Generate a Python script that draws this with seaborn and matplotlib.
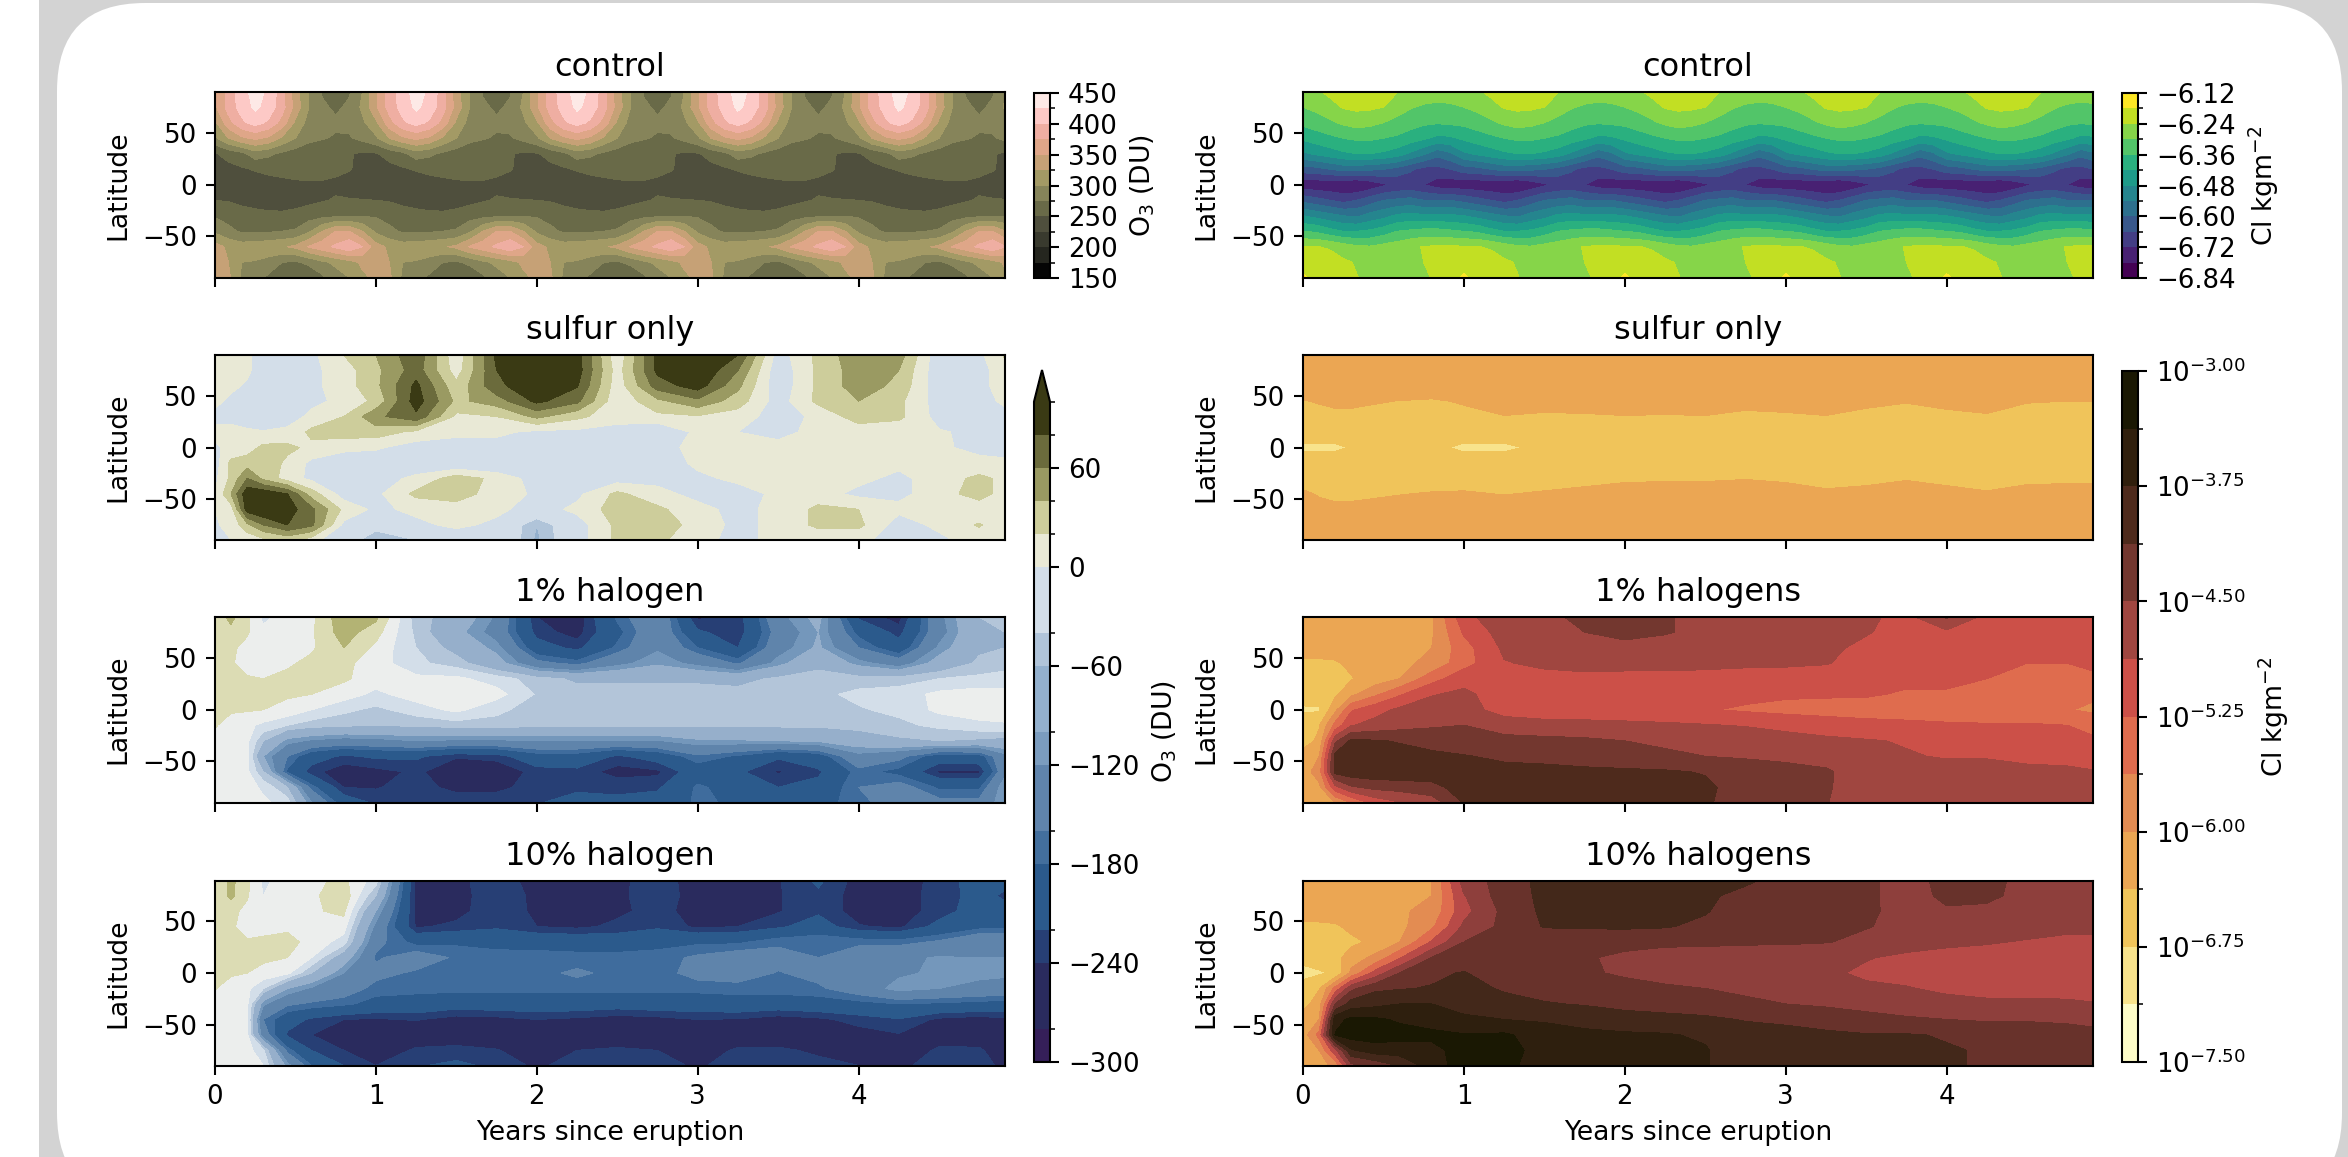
import numpy as np
import matplotlib
matplotlib.use("Agg")
import matplotlib.pyplot as plt
import seaborn as sns
from matplotlib.cm import ScalarMappable
from matplotlib.colors import BoundaryNorm, ListedColormap, to_hex
from matplotlib.patches import FancyBboxPatch, Rectangle

W, H, DPI = 2348, 1157, 187

lat = [89.7, 75, 60, 45, 30, 15, 0, -15, -30, -45, -60, -75, -89.7]
time = [0, 0.1, 0.2, 0.3, 0.45, 0.6, 0.8, 1, 1.25, 1.5, 1.75, 2, 2.25, 2.5, 2.75, 3, 3.25, 3.5, 3.75, 4, 4.25, 4.5, 4.75, 4.91]
months = np.arange(60) / 12

# one model year, the runs repeat it every year
o3_control_year = [
    [345, 385, 415, 435, 420, 385, 335, 300, 272, 265, 272, 300],
    [345, 385, 410, 430, 415, 385, 340, 300, 280, 270, 280, 305],
    [320, 365, 395, 410, 395, 365, 320, 290, 282, 280, 283, 295],
    [295, 325, 345, 355, 345, 320, 300, 282, 277, 272, 272, 282],
    [248, 258, 268, 288, 280, 270, 262, 258, 255, 255, 252, 246],
    [242, 243, 247, 252, 256, 258, 258, 256, 255, 255, 252, 242],
    [233, 232, 235, 237, 240, 243, 246, 248, 248, 245, 237, 233],
    [250, 248, 243, 240, 238, 238, 240, 243, 248, 252, 252, 251],
    [272, 268, 262, 258, 256, 255, 258, 265, 267, 270, 272, 274],
    [295, 280, 272, 270, 272, 275, 278, 295, 325, 350, 350, 325],
    [335, 320, 312, 315, 318, 322, 330, 352, 365, 380, 395, 375],
    [335, 325, 300, 298, 290, 275, 272, 280, 295, 305, 315, 330],
    [330, 330, 295, 285, 270, 258, 252, 258, 270, 290, 300, 320],
]
cl_control_year = [
    [-6.265, -6.25, -6.225, -6.20, -6.19, -6.20, -6.22, -6.238, -6.25, -6.26, -6.27, -6.27],
    [-6.30, -6.285, -6.265, -6.235, -6.228, -6.23, -6.24, -6.27, -6.295, -6.31, -6.315, -6.31],
    [-6.345, -6.33, -6.31, -6.29, -6.275, -6.285, -6.30, -6.32, -6.335, -6.35, -6.355, -6.35],
    [-6.41, -6.39, -6.375, -6.36, -6.35, -6.35, -6.36, -6.37, -6.39, -6.41, -6.435, -6.43],
    [-6.49, -6.47, -6.45, -6.43, -6.42, -6.42, -6.43, -6.45, -6.49, -6.53, -6.58, -6.55],
    [-6.63, -6.62, -6.60, -6.58, -6.58, -6.59, -6.60, -6.62, -6.65, -6.68, -6.68, -6.66],
    [-6.76, -6.765, -6.77, -6.775, -6.785, -6.76, -6.73, -6.71, -6.705, -6.72, -6.75, -6.76],
    [-6.62, -6.64, -6.66, -6.68, -6.66, -6.63, -6.60, -6.59, -6.58, -6.60, -6.60, -6.60],
    [-6.48, -6.50, -6.52, -6.54, -6.55, -6.52, -6.50, -6.47, -6.46, -6.47, -6.47, -6.47],
    [-6.36, -6.37, -6.40, -6.42, -6.42, -6.41, -6.39, -6.36, -6.35, -6.34, -6.34, -6.35],
    [-6.235, -6.238, -6.245, -6.27, -6.29, -6.295, -6.28, -6.27, -6.25, -6.237, -6.232, -6.232],
    [-6.21, -6.215, -6.22, -6.23, -6.245, -6.255, -6.26, -6.255, -6.25, -6.24, -6.22, -6.21],
    [-6.17, -6.20, -6.21, -6.22, -6.238, -6.255, -6.26, -6.26, -6.25, -6.245, -6.235, -6.205],
]

o3_sulfur = [
    [15, 20, 5, -15, -20, -5, 20, 40, 75, 5, 85, 100, 90, 5, 85, 100, 80, -10, 25, 55, 50, -15, -5, 22],
    [10, 15, 5, -15, -25, -5, 10, 35, 70, 10, 80, 100, 90, 10, 85, 100, 60, -15, 25, 50, 40, -15, -10, 15],
    [10, 5, -3, -10, -15, -5, 10, 35, 85, 25, 75, 95, 82, 8, 70, 90, 45, -15, 25, 50, 35, -15, -10, 15],
    [5, -5, -10, -15, -15, -5, 5, 25, 90, 35, 50, 85, 65, 5, 35, 55, 30, -10, 25, 40, 25, -10, -10, 5],
    [-5, -3, -10, -20, -10, 5, 20, 55, 75, 15, 20, 45, 25, 8, 15, 18, 10, -10, 5, 30, 25, -8, -15, -8],
    [5, 3, 3, 2, 5, 25, 30, 30, 15, 8, 5, -5, -5, -8, -20, 5, 0, -5, 5, 8, 5, 2, -5, -15],
    [-3, 5, 10, 25, 25, 15, 5, 3, -10, -15, -10, -25, -25, -20, -10, 8, 5, 5, 5, 5, 5, 3, -5, -10],
    [-10, 25, 30, 35, 15, -5, -12, -15, -15, -20, -25, -25, -25, -25, -15, 5, 5, 5, 5, 5, 5, 5, 5, 5],
    [-5, 25, 60, 35, 10, -5, -10, -10, 5, 30, 15, -10, -10, -10, -5, -5, 5, 5, 10, 5, -5, 10, 25, 15],
    [0, 40, 95, 95, 80, 30, -10, -5, 25, 25, 15, -5, -5, 25, 5, -5, -10, 5, 8, -5, -5, 10, 30, 10],
    [0, 10, 90, 100, 90, 65, 15, -5, 5, 15, 5, -10, 5, 30, 25, 5, -5, 5, 25, 20, 5, 5, 5, 5],
    [-2, 5, 35, 60, 80, 65, -5, -30, -5, 5, -5, -60, -10, 25, 35, 10, -5, 5, 25, 25, -10, 5, 22, 5],
    [-2, 0, 5, 15, 25, 10, -25, -55, -40, -15, -5, -65, -10, 25, 25, 5, -5, 5, 5, 5, -10, -5, 10, 5],
]
o3_one_pct = [
    [10, 25, 5, -25, -10, -5, 35, 25, -50, -75, -125, -240, -255, -175, -125, -245, -235, -130, -90, -225, -250, -130, -60, -55],
    [8, 15, 2, -15, -8, -3, 30, 8, -45, -90, -135, -230, -250, -190, -130, -215, -235, -145, -100, -190, -230, -135, -65, -60],
    [5, 3, -5, -8, -8, -3, 20, -5, -40, -70, -110, -205, -228, -175, -125, -180, -220, -135, -95, -160, -205, -115, -65, -60],
    [3, 2, -8, -5, -3, 5, 5, -10, -35, -50, -85, -150, -170, -130, -105, -130, -165, -110, -68, -110, -140, -85, -55, -50],
    [3, 3, 2, 0, 5, 5, 3, -10, -15, -15, -30, -50, -65, -65, -65, -65, -70, -55, -50, -50, -50, -40, -35, -30],
    [5, 5, 3, 3, 2, 0, -10, -25, -10, -10, -12, -42, -50, -50, -50, -50, -50, -50, -45, -35, -30, -15, -10, -15],
    [5, 3, 2, 0, -5, -20, -35, -45, -30, -15, -35, -50, -55, -55, -55, -55, -55, -50, -50, -42, -35, -15, -10, -12],
    [2, -10, -15, -25, -40, -50, -55, -60, -55, -50, -48, -55, -55, -55, -55, -55, -55, -55, -55, -50, -45, -35, -25, -22],
    [-8, -12, -15, -60, -110, -125, -135, -130, -120, -125, -125, -120, -120, -122, -122, -105, -103, -100, -95, -80, -65, -60, -65, -70],
    [-8, -10, -15, -100, -160, -205, -225, -215, -215, -238, -232, -195, -195, -225, -205, -165, -185, -215, -200, -130, -150, -200, -195, -130],
    [-8, -10, -15, -60, -185, -232, -255, -248, -236, -255, -258, -232, -228, -250, -245, -200, -215, -243, -225, -170, -190, -245, -245, -130],
    [-8, -8, -10, -25, -60, -170, -240, -242, -230, -248, -250, -225, -225, -225, -225, -175, -195, -220, -210, -160, -145, -185, -185, -100],
    [-5, -5, -8, -15, -30, -120, -200, -225, -230, -225, -220, -222, -210, -215, -205, -175, -185, -190, -190, -170, -140, -150, -150, -100],
]
o3_ten_pct = [
    [5, 25, 5, -25, -10, -5, 5, -30, -250, -245, -230, -248, -255, -245, -230, -250, -250, -242, -215, -250, -248, -235, -205, -210],
    [5, 25, 2, -20, -8, -5, 15, -60, -250, -250, -225, -246, -255, -245, -228, -250, -250, -242, -225, -250, -250, -232, -210, -225],
    [3, 5, -5, -8, -8, -3, 5, -100, -245, -248, -225, -245, -250, -245, -232, -250, -252, -242, -225, -250, -250, -232, -205, -210],
    [2, 3, -8, -5, -3, -5, -10, -130, -243, -235, -225, -240, -245, -235, -225, -245, -240, -225, -205, -238, -245, -210, -190, -190],
    [3, 3, 2, 3, 5, -5, -30, -150, -190, -185, -190, -192, -195, -200, -190, -185, -185, -165, -160, -165, -170, -155, -125, -120],
    [5, 5, 4, 3, 0, -20, -80, -165, -140, -165, -170, -170, -172, -170, -170, -155, -140, -150, -160, -145, -125, -118, -120, -120],
    [5, 3, 0, -5, -15, -60, -120, -150, -165, -165, -170, -168, -155, -168, -170, -150, -145, -162, -150, -135, -125, -115, -112, -115],
    [1, -10, -15, -40, -100, -125, -140, -170, -172, -172, -172, -172, -172, -172, -172, -172, -170, -168, -165, -140, -110, -120, -130, -132],
    [-8, -12, -15, -115, -155, -165, -175, -190, -195, -205, -200, -200, -200, -205, -200, -200, -195, -200, -195, -190, -180, -185, -190, -195],
    [-8, -10, -15, -160, -205, -225, -240, -243, -238, -250, -248, -240, -245, -252, -248, -240, -242, -252, -245, -232, -222, -245, -252, -245],
    [-8, -10, -15, -140, -225, -240, -260, -262, -262, -262, -262, -262, -262, -262, -262, -262, -262, -260, -255, -250, -242, -255, -260, -260],
    [-6, -8, -12, -35, -170, -220, -240, -262, -235, -230, -238, -258, -240, -235, -240, -258, -235, -235, -245, -250, -262, -235, -235, -262],
    [-5, -5, -10, -20, -110, -180, -220, -240, -222, -215, -225, -245, -228, -225, -228, -245, -225, -222, -232, -240, -248, -225, -225, -250],
]

cl_sulfur = [
    [-6.2] * 24,
    [-6.2] * 24,
    [-6.2] * 24,
    [-6.387, -6.357, -6.333, -6.333, -6.357, -6.381, -6.405, -6.351, -6.291, -6.309, -6.303, -6.291, -6.297, -6.291, -6.321, -6.309, -6.291, -6.333, -6.363, -6.327, -6.303, -6.363, -6.375, -6.375],
    [-6.477, -6.447, -6.423, -6.423, -6.447, -6.471, -6.495, -6.441, -6.381, -6.399, -6.393, -6.381, -6.387, -6.381, -6.411, -6.399, -6.381, -6.423, -6.453, -6.417, -6.393, -6.453, -6.465, -6.465],
    [-6.55] * 24,
    [-6.83, -6.83, -6.82, -6.72, -6.65, -6.65, -6.65, -6.83, -6.83, -6.65, -6.65, -6.65, -6.65, -6.65, -6.65, -6.65, -6.65, -6.65, -6.65, -6.65, -6.65, -6.65, -6.65, -6.65],
    [-6.55] * 24,
    [-6.441, -6.477, -6.513, -6.507, -6.483, -6.471, -6.453, -6.447, -6.471, -6.447, -6.423, -6.399, -6.393, -6.393, -6.381, -6.399, -6.435, -6.417, -6.387, -6.417, -6.447, -6.411, -6.405, -6.405],
    [-6.351, -6.387, -6.423, -6.417, -6.393, -6.381, -6.363, -6.357, -6.381, -6.357, -6.333, -6.309, -6.303, -6.303, -6.291, -6.309, -6.345, -6.327, -6.297, -6.327, -6.357, -6.321, -6.315, -6.315],
    [-6.30, -6.33, -6.33, -6.33, -6.33, -6.30, -6.30, -6.30, -6.30, -6.30, -6.30, -6.30, -6.30, -6.30, -6.30, -6.30, -6.30, -6.30, -6.30, -6.30, -6.30, -6.30, -6.30, -6.30],
    [-6.2] * 24,
    [-6.2] * 24,
]
cl_one_pct = [
    [-6.2, -6.2, -6.15, -6.15, -6.12, -6.1, -6.05, -5, -4.6, -4.55, -4.45, -4.4, -4.47, -4.6, -4.6, -4.65, -4.7, -4.8, -5.0, -4.45, -5.0, -5.05, -5.05, -5.05],
    [-6.2, -6.2, -6.2, -6.15, -6.12, -6.1, -6.05, -5.2, -4.7, -4.6, -4.5, -4.4, -4.47, -4.6, -4.65, -4.7, -4.75, -4.85, -5.0, -4.95, -5.0, -5.05, -5.05, -5.05],
    [-6.2, -6.2, -6.2, -6.15, -6.1, -6.05, -6.0, -5.4, -4.8, -4.7, -4.65, -4.6, -4.65, -4.7, -4.75, -4.75, -4.8, -4.95, -5.05, -5.05, -5.1, -5.1, -5.1, -5.1],
    [-6.45, -6.45, -6.42, -6.3, -6.2, -6.1, -5.9, -5.4, -4.9, -4.8, -4.72, -4.7, -4.7, -4.75, -4.8, -4.8, -4.85, -5.05, -5.1, -5.1, -5.15, -5.25, -5.25, -5.15],
    [-6.55, -6.55, -6.5, -6.4, -6.2, -6.0, -5.4, -5.0, -4.9, -5.0, -5.0, -5.05, -5.05, -5.05, -5.05, -5.1, -5.1, -5.1, -5.15, -5.15, -5.25, -5.3, -5.35, -5.35],
    [-6.6, -6.55, -6.45, -6.1, -5.7, -5.3, -4.9, -4.8, -5.05, -5.15, -5.15, -5.15, -5.15, -5.15, -5.15, -5.2, -5.2, -5.2, -5.3, -5.3, -5.4, -5.4, -5.5, -5.55],
    [-6.8, -6.8, -6.1, -5.3, -5.0, -4.8, -4.7, -4.7, -5.05, -5.15, -5.2, -5.2, -5.2, -5.22, -5.3, -5.35, -5.4, -5.45, -5.45, -5.45, -5.45, -5.45, -5.6, -5.7],
    [-6.55, -6.4, -5.5, -4.9, -4.75, -4.65, -4.55, -4.5, -4.65, -4.7, -4.7, -4.75, -4.8, -4.85, -4.9, -5.0, -5.05, -5.1, -5.15, -5.2, -5.22, -5.22, -5.25, -5.35],
    [-6.55, -6.3, -4.6, -4.05, -4.1, -4.15, -4.25, -4.35, -4.4, -4.42, -4.45, -4.5, -4.55, -4.6, -4.6, -4.7, -4.8, -4.85, -4.9, -5.0, -5.05, -5.1, -5.15, -5.2],
    [-6.2, -6, -4, -3.95, -3.95, -4.0, -4.05, -4.1, -4.2, -4.25, -4.35, -4.4, -4.45, -4.5, -4.55, -4.6, -4.65, -4.8, -4.85, -4.9, -4.9, -4.95, -5.0, -5.05],
    [-6.2, -5.8, -4.0, -3.9, -3.85, -3.85, -3.9, -3.95, -4.0, -4.0, -4.02, -4.05, -4.08, -4.15, -4.25, -4.35, -4.45, -4.7, -4.72, -4.75, -4.75, -4.8, -4.8, -4.85],
    [-6.2, -6.1, -5, -4.55, -4.4, -4.35, -4.25, -3.95, -3.9, -3.95, -3.98, -4.0, -4.02, -4.05, -4.3, -4.4, -4.45, -4.75, -4.75, -4.75, -4.75, -4.8, -4.8, -4.8],
    [-6.2, -6.15, -6, -5.6, -5.1, -4.9, -4.7, -4.1, -3.95, -3.95, -3.98, -4.0, -4.02, -4.08, -4.3, -4.4, -4.48, -4.75, -4.75, -4.75, -4.75, -4.8, -4.8, -4.8],
]
cl_ten_pct = [
    [-6.2, -6.2, -6.15, -6.15, -6.12, -6.1, -6.0, -4.7, -4.35, -4.0, -3.95, -3.95, -3.95, -3.95, -4.05, -4.3, -4.35, -4.4, -4.7, -4.35, -4.35, -4.65, -4.7, -4.7],
    [-6.2, -6.2, -6.2, -6.15, -6.12, -6.1, -6.0, -4.9, -4.3, -4.05, -3.95, -3.95, -3.95, -4.05, -4.25, -4.3, -4.35, -4.4, -4.7, -4.4, -4.4, -4.65, -4.7, -4.7],
    [-6.2, -6.2, -6.2, -6.15, -6.1, -6.05, -5.9, -5.0, -4.4, -4.05, -4.0, -4.0, -4.0, -4.1, -4.3, -4.35, -4.38, -4.42, -4.65, -4.55, -4.6, -4.7, -4.72, -4.72],
    [-6.45, -6.45, -6.42, -6.3, -6.2, -6.1, -5.7, -4.8, -4.4, -4.1, -4.08, -4.08, -4.1, -4.2, -4.35, -4.4, -4.42, -4.48, -4.6, -4.65, -4.7, -4.75, -4.8, -4.8],
    [-6.55, -6.55, -6.5, -6.45, -6.3, -6.0, -5.2, -4.5, -4.35, -4.42, -4.4, -4.35, -4.4, -4.42, -4.45, -4.45, -4.48, -4.6, -4.72, -4.8, -4.85, -4.9, -4.95, -4.95],
    [-6.6, -6.55, -6.5, -6.2, -5.9, -5.3, -4.5, -4.35, -4.38, -4.45, -4.45, -4.6, -4.7, -4.7, -4.7, -4.75, -4.85, -4.85, -4.95, -5.0, -5.0, -5.05, -5.05, -5.1],
    [-6.9, -6.8, -6.7, -5.9, -5.1, -4.5, -4.2, -4.1, -4.35, -4.42, -4.45, -4.55, -4.7, -4.7, -4.75, -4.8, -4.8, -4.95, -5.0, -5.0, -5.0, -5.05, -5.05, -5.05],
    [-6.55, -6.4, -5.5, -4.6, -4.2, -4.15, -4.1, -4.05, -4.15, -4.25, -4.3, -4.38, -4.42, -4.5, -4.6, -4.7, -4.75, -4.8, -4.85, -4.95, -5.0, -5.0, -5.0, -5.05],
    [-6.5, -6.2, -4.5, -3.95, -3.85, -3.75, -3.75, -3.85, -4.05, -4.1, -4.15, -4.25, -4.3, -4.35, -4.4, -4.5, -4.55, -4.6, -4.7, -4.75, -4.8, -4.8, -4.82, -4.85],
    [-6.2, -6, -3.5, -3.3, -3.32, -3.42, -3.55, -3.7, -3.75, -3.8, -3.9, -3.95, -4.0, -4.05, -4.15, -4.2, -4.3, -4.4, -4.45, -4.5, -4.55, -4.55, -4.6, -4.6],
    [-6.2, -5.5, -3.35, -3.2, -3.2, -3.25, -3.28, -3.35, -3.32, -3.55, -3.65, -3.7, -3.72, -3.8, -3.95, -4.0, -4.05, -4.1, -4.1, -4.15, -4.2, -4.2, -4.25, -4.4],
    [-6.2, -6.0, -5.0, -3.8, -3.55, -3.55, -3.5, -3.2, -3.2, -3.55, -3.7, -3.7, -3.7, -3.72, -4.0, -4.05, -4.05, -4.05, -4.08, -4.1, -4.15, -4.4, -4.4, -4.4],
    [-6.2, -6.15, -5.9, -4.6, -4.4, -4.1, -3.55, -3.2, -3.25, -3.6, -3.7, -3.7, -3.7, -3.72, -4.02, -4.05, -4.05, -4.05, -4.1, -4.1, -4.15, -4.4, -4.4, -4.4],
]

o3_levels = [150, 175, 200, 225, 250, 275, 300, 325, 350, 375, 400, 425, 450]
o3_colors = ["#050505", "#25261f", "#393a2e", "#4f4f3d", "#696a48", "#86845a", "#a39a65", "#c6a176", "#dfa688", "#efaea2", "#fdc9c6", "#fde9e6"]
diff_levels = [-300, -280, -240, -220, -180, -160, -120, -100, -60, -40, 0, 20, 40, 60, 80, 100]
diff_colors = ["#351f59", "#2a2b5e", "#273f75", "#2b5a8c", "#436f9d", "#6084ac", "#7b9cbe", "#93b0cd", "#b0c4d9", "#d3dee9", "#e9e9d6", "#cdcd9b", "#9a9a62", "#6b6b3c", "#3a3a14"]
halogen_levels = [-300, -240, -220, -180, -160, -120, -100, -60, -40, -20, 0, 20, 40, 100]
halogen_colors = ["#2a2b5e", "#273f75", "#2b5a8c", "#3f6c9d", "#5f84ab", "#7497bb", "#96afcb", "#b3c5d9", "#d3dee9", "#eceeed", "#dcdcb4", "#b3b374", "#8a8a50"]
viridis_levels = [-6.84, -6.78, -6.72, -6.66, -6.60, -6.54, -6.48, -6.42, -6.36, -6.30, -6.24, -6.18, -6.12]
cl_levels = [-7.5, -7.125, -6.75, -6.375, -6.0, -5.625, -5.25, -4.875, -4.5, -4.125, -3.75, -3.375, -3.0]
cl_colors = ["#fdfcc8", "#f8e38c", "#f0c45a", "#eba653", "#e38c52", "#df6c4e", "#cc5048", "#a04640", "#73372f", "#4e2a1c", "#301f0d", "#1a1803"]
cl_colors_ten = ["#fdfcc8", "#f8e38c", "#f0c45a", "#eba653", "#e38c52", "#df6c4e", "#b84a47", "#8e3f3c", "#68322b", "#43281a", "#2e1f0e", "#1a1803"]

sns.set_style("ticks", {"axes.edgecolor": "black", "text.color": "black", "axes.labelcolor": "black",
                        "xtick.color": "black", "ytick.color": "black", "font.family": ["DejaVu Sans"]})
plt.rcParams["axes.linewidth"] = 0.8
plt.rcParams["xtick.major.size"] = 3.5
plt.rcParams["ytick.major.size"] = 3.5
plt.rcParams["xtick.major.width"] = 0.8
plt.rcParams["ytick.major.width"] = 0.8
plt.rcParams["font.size"] = 10
plt.rcParams["axes.titlesize"] = 12.3
plt.rcParams["axes.labelsize"] = 10.25
plt.rcParams["xtick.labelsize"] = 10
plt.rcParams["ytick.labelsize"] = 10


def box(x0, y0, x1, y1):
    # pixel box of the reference -> figure fractions
    return [x0 / W, 1 - y1 / H, (x1 - x0) / W, (y1 - y0) / H]


def draw_panel(ax, x, values, levels, colors, title, last=False):
    ax.contourf(x, lat, np.array(values), levels=levels, colors=colors)
    ax.set_xlim(0, 4.91)
    ax.set_ylim(-89.7, 89.7)
    ax.set_xticks([0, 1, 2, 3, 4])
    ax.set_yticks([-50, 0, 50])
    ax.set_ylabel("Latitude")
    ax.set_title(title)
    if last:
        ax.set_xlabel("Years since eruption")
    else:
        ax.set_xticklabels([])


def add_bar(rect, levels, colors, ticks, minor, label, labels=None, extend="neither", extendfrac=None):
    cax = fig.add_axes(box(*rect))
    cmap = ListedColormap(colors)
    if extend == "max":
        cmap.set_over(colors[-1])
    norm = BoundaryNorm(levels, cmap.N)
    cb = fig.colorbar(ScalarMappable(norm=norm, cmap=cmap), cax=cax, extend=extend, extendfrac=extendfrac, spacing="proportional")
    cb.set_ticks(ticks)
    if labels is not None:
        cb.set_ticklabels(labels)
    if len(minor):
        cb.ax.yaxis.set_ticks(minor, minor=True)
        cb.ax.tick_params(which="minor", length=2, width=0.6)
    cb.set_label(label)
    return cb


fig = plt.figure(figsize=(W / DPI, H / DPI), dpi=DPI, facecolor="white")

# rounded card behind the chart
fig.add_artist(Rectangle((39 / W, 0), (W - 39) / W, 1, transform=fig.transFigure, facecolor="#d3d3d3", edgecolor="none", zorder=-3))
card = FancyBboxPatch((57 + 88, -44 + 88), 2342 - 57 - 176, 1154 + 44 - 176, boxstyle="round,pad=88", transform=None,
                      facecolor="white", edgecolor="none", zorder=-2, mutation_scale=1)
fig.add_artist(card)

left_x, right_x = (215, 1005), (1303, 2093)
rows = [(92, 277.5), (355, 540), (617, 802.5), (880.5, 1065.5)]

o3_panels = [
    (np.tile(o3_control_year, 5), o3_levels, o3_colors, "control"),
    (o3_sulfur, diff_levels, diff_colors, "sulfur only"),
    (o3_one_pct, halogen_levels, halogen_colors, "1% halogen"),
    (o3_ten_pct, halogen_levels, halogen_colors, "10% halogen"),
]
viridis_colors = [to_hex(c) for c in plt.get_cmap("viridis", 12)(range(12))]
cl_panels = [
    (np.tile(cl_control_year, 5), viridis_levels, viridis_colors, "control"),
    (cl_sulfur, cl_levels, cl_colors, "sulfur only"),
    (cl_one_pct, cl_levels, cl_colors, "1% halogens"),
    (cl_ten_pct, cl_levels, cl_colors_ten, "10% halogens"),
]

for col_x, panels in ((left_x, o3_panels), (right_x, cl_panels)):
    for i, (values, levels, colors, title) in enumerate(panels):
        ax = fig.add_axes(box(col_x[0], rows[i][0], col_x[1], rows[i][1]))
        draw_panel(ax, months if i == 0 else time, values, levels, colors, title, last=i == 3)

add_bar((1034, 93, 1050, 278), o3_levels, o3_colors, list(range(150, 451, 50)), list(range(175, 450, 50)), "O$_3$ (DU)")
add_bar((1034, 370, 1050, 1062), diff_levels, diff_colors, list(range(-300, 61, 60)), [], "O$_3$ (DU)",
        extend="max", extendfrac=0.048)
add_bar((2122, 93, 2138, 278), viridis_levels, viridis_colors, viridis_levels[::2], viridis_levels[1::2], "Cl kgm$^{-2}$")
cl_ticks = cl_levels[::2]
add_bar((2122, 371, 2138, 1062), cl_levels, cl_colors, cl_ticks, cl_levels[1::2], "Cl kgm$^{-2}$",
        labels=[f"$10^{{{v:.2f}}}$" for v in cl_ticks])

fig.savefig("out.png", dpi=DPI)
